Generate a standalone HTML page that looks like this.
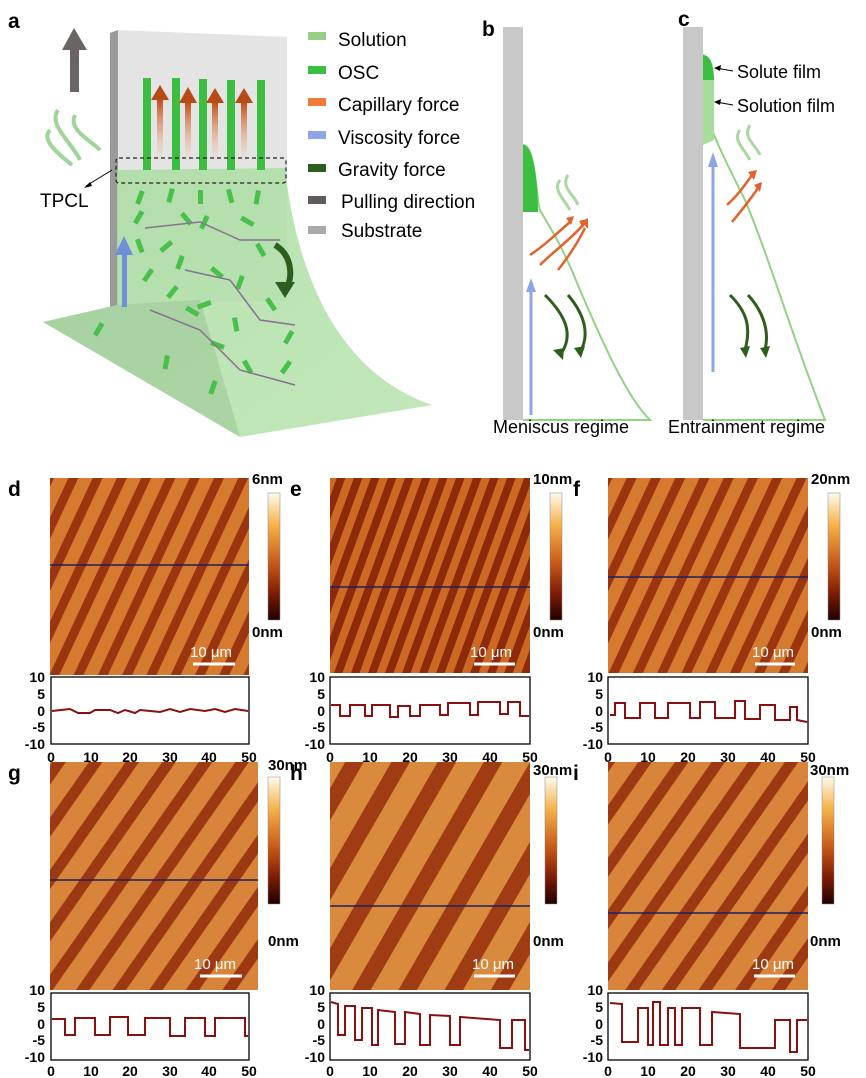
<!DOCTYPE html>
<html><head><meta charset="utf-8"><style>
html,body{margin:0;padding:0;background:#fff}
svg{display:block}
text{font-family:"Liberation Sans",Arial,sans-serif}
.L{font-weight:bold;font-size:21px}
.cb{font-weight:bold;font-size:15px}
.lg{font-size:19px}
</style></head><body>
<svg width="866" height="1078" viewBox="0 0 866 1078" xmlns="http://www.w3.org/2000/svg">
<defs>
<linearGradient id="cbar" x1="0" y1="0" x2="0" y2="1">
<stop offset="0" stop-color="#fffbee"/><stop offset="0.25" stop-color="#f5b24a"/><stop offset="0.55" stop-color="#c85a18"/><stop offset="0.8" stop-color="#7a1a05"/><stop offset="1" stop-color="#200000"/></linearGradient>
<pattern id="st1" width="22" height="22" patternUnits="userSpaceOnUse" patternTransform="rotate(25)">
<rect width="22" height="22" fill="#d67a30"/><rect width="9" height="22" fill="#9a3510"/></pattern>
<pattern id="st2" width="16" height="16" patternUnits="userSpaceOnUse" patternTransform="rotate(20)">
<rect width="16" height="16" fill="#cc6a25"/><rect width="8" height="16" fill="#8c2a0a"/></pattern>
<pattern id="st3" width="30" height="30" patternUnits="userSpaceOnUse" patternTransform="rotate(35)">
<rect width="30" height="30" fill="#d8843a"/><rect width="11" height="30" fill="#9c3812"/></pattern>
<pattern id="st4" width="40" height="40" patternUnits="userSpaceOnUse" patternTransform="rotate(30)">
<rect width="40" height="40" fill="#d98a3c"/><rect width="16" height="40" fill="#a03c14"/></pattern>
<linearGradient id="og" x1="0" y1="0" x2="0" y2="1"><stop offset="0" stop-color="#c2501a"/><stop offset="1" stop-color="#f6c8a8" stop-opacity="0"/></linearGradient>
<linearGradient id="mg" x1="0" y1="0" x2="1" y2="1"><stop offset="0" stop-color="#a9dca0"/><stop offset="1" stop-color="#b7e3ae"/></linearGradient>
</defs>

<!-- Panel a -->
<text x="8" y="28" class="L">a</text>
<polygon points="118,30 287,37 287,300 118,305" fill="#e4e4e4"/>
<polygon points="110,33 118,30 118,305 110,308" fill="#9a9a9a"/>
<rect x="70" y="50" width="9" height="42" fill="#6a6464"/>
<polygon points="62,50 74,28 87,50" fill="#6a6464"/>
<path d="M58,110 C48,125 70,140 80,160 M75,115 C68,130 90,140 100,150 M50,130 C40,140 60,155 72,165" stroke="#9fd59a" stroke-width="4" fill="none"/>
<path d="M43,322 L117,305 L117,170 L285,168 C295,260 330,370 432,405 L240,437 Z" fill="url(#mg)" opacity="0.85"/>
<path d="M43,322 L117,305 L200,300 L240,437 Z" fill="#9cc896" opacity="0.6"/>
<g fill="#3cbf40">
<rect x="143" y="78" width="8" height="92"/><rect x="172" y="78" width="8" height="92"/><rect x="199" y="79" width="8" height="91"/><rect x="227" y="80" width="8" height="90"/><rect x="257" y="80" width="8" height="90"/>
</g>
<g>
<rect x="157" y="100" width="6" height="65" fill="url(#og)"/><polygon points="151,100 160,85 169,100" fill="#b84a18"/>
<rect x="185" y="103" width="6" height="62" fill="url(#og)"/><polygon points="179,103 188,87 197,103" fill="#b84a18"/>
<rect x="212" y="103" width="6" height="62" fill="url(#og)"/><polygon points="206,103 215,88 224,103" fill="#b84a18"/>
<rect x="241" y="103" width="6" height="62" fill="url(#og)"/><polygon points="235,103 244,88 253,103" fill="#b84a18"/>
</g>
<rect x="116" y="158" width="170" height="25" rx="3" fill="none" stroke="#222" stroke-dasharray="4,3" stroke-width="1.2"/>
<line x1="112" y1="170" x2="86" y2="186" stroke="#000"/><polygon points="84,188 90,182 92,186" fill="#000"/>
<text x="40" y="207" style="font-size:19px">TPCL</text>
<g fill="#49c04c">
<rect x="140" y="190" width="5" height="14" transform="rotate(20 140 190)"/><rect x="170" y="188" width="5" height="14" transform="rotate(15 170 188)"/>
<rect x="198" y="190" width="5" height="14"/><rect x="226" y="190" width="5" height="14" transform="rotate(-15 226 190)"/>
<rect x="256" y="190" width="5" height="14" transform="rotate(10 256 190)"/>
<rect x="140" y="210" width="5" height="14" transform="rotate(30 140 210)"/><rect x="180" y="215" width="5" height="14" transform="rotate(-40 180 215)"/>
<rect x="205" y="215" width="5" height="14" transform="rotate(25 205 215)"/><rect x="240" y="220" width="5" height="14" transform="rotate(-60 240 220)"/>
<rect x="135" y="240" width="5" height="14" transform="rotate(-20 135 240)"/><rect x="170" y="240" width="5" height="14" transform="rotate(50 170 240)"/>
<rect x="255" y="245" width="5" height="14" transform="rotate(-30 255 245)"/><rect x="150" y="268" width="5" height="14" transform="rotate(35 150 268)"/>
<rect x="180" y="255" width="5" height="14" transform="rotate(20 180 255)"/><rect x="210" y="270" width="5" height="14" transform="rotate(-50 210 270)"/>
<rect x="240" y="275" width="5" height="14" transform="rotate(20 240 275)"/><rect x="175" y="285" width="5" height="14" transform="rotate(40 175 285)"/>
<rect x="210" y="300" width="5" height="14" transform="rotate(70 210 300)"/><rect x="265" y="300" width="5" height="14" transform="rotate(-35 265 300)"/>
<rect x="100" y="322" width="5" height="14" transform="rotate(30 100 322)"/><rect x="185" y="310" width="5" height="14" transform="rotate(-60 185 310)"/>
<rect x="232" y="318" width="5" height="14" transform="rotate(-10 232 318)"/><rect x="290" y="330" width="5" height="14" transform="rotate(30 290 330)"/>
<rect x="165" y="355" width="5" height="14" transform="rotate(10 165 355)"/><rect x="210" y="345" width="5" height="14" transform="rotate(-70 210 345)"/>
<rect x="242" y="362" width="5" height="14" transform="rotate(-30 242 362)"/><rect x="288" y="360" width="5" height="14" transform="rotate(35 288 360)"/>
<rect x="213" y="380" width="5" height="14" transform="rotate(20 213 380)"/>
</g>
<path d="M145,228 L200,222 L240,240 L280,240 M185,270 L230,280 L260,320 L295,325 M150,310 L200,330 L240,370 L295,385" stroke="#8a7090" stroke-width="1.5" fill="none"/>
<rect x="122" y="252" width="5" height="55" fill="#6f8fd8"/><polygon points="115,255 124,236 133,255" fill="#6f8fd8"/>
<path d="M275,245 C292,255 292,275 288,285" stroke="#2d5e1e" stroke-width="6" fill="none"/><polygon points="275,282 295,282 285,298" fill="#2d5e1e"/>
<!-- legend -->
<rect x="308" y="32" width="18" height="8" fill="#97cf86"/><text x="338" y="46" class="lg">Solution</text>
<rect x="308" y="66" width="18" height="8" fill="#3cbf40"/><text x="338" y="79" class="lg">OSC</text>
<rect x="308" y="98" width="18" height="8" fill="#ee7a3c"/><text x="338" y="111" class="lg">Capillary force</text>
<rect x="308" y="131" width="18" height="8" fill="#8fa6e6"/><text x="338" y="144" class="lg">Viscosity force</text>
<rect x="308" y="164" width="18" height="8" fill="#2d5e1e"/><text x="338" y="176" class="lg">Gravity force</text>
<rect x="308" y="196" width="18" height="8" fill="#5f5b5b"/><text x="341" y="208" class="lg">Pulling direction</text>
<rect x="308" y="226" width="18" height="8" fill="#aaaaaa"/><text x="341" y="237" class="lg">Substrate</text>

<!-- Panel b -->
<text x="482" y="36" class="L">b</text>
<rect x="503" y="27" width="20" height="393" fill="#c8c8c8"/>
<path d="M523,145 C536,145 536,200 540,210 C548,225 560,240 580,290 C610,360 630,400 650,420 L523,420" stroke="#8fd480" stroke-width="2" fill="none"/>
<path d="M523,145 C535,145 538,190 538,212 L523,212 Z" fill="#3cbf40"/>
<path d="M560,180 C552,190 565,200 570,210 M568,175 C560,188 575,195 578,205" stroke="#a8d8a0" stroke-width="3" fill="none"/>
<line x1="531" y1="415" x2="531" y2="290" stroke="#8fa6e6" stroke-width="3"/><polygon points="526,292 531,278 536,292" fill="#8fa6e6"/>
<path d="M530,255 C545,245 555,235 570,222 M540,265 C555,250 570,240 583,225 M558,270 C570,255 578,242 585,228" stroke="#e2622a" stroke-width="2.5" fill="none"/>
<g fill="#e2622a"><polygon points="566,218 574,216 571,225"/><polygon points="579,221 587,219 583,228"/><polygon points="582,222 588,218 588,229"/></g>
<path d="M545,295 C565,315 575,335 560,355 M568,295 C585,315 590,335 580,352" stroke="#2d5e1e" stroke-width="3" fill="none"/>
<polygon points="553,350 563,360 564,348" fill="#2d5e1e"/><polygon points="574,348 581,358 585,346" fill="#2d5e1e"/>
<text x="493" y="433" style="font-size:18px">Meniscus regime</text>

<!-- Panel c -->
<text x="678" y="26" class="L">c</text>
<rect x="683" y="27" width="20" height="393" fill="#c8c8c8"/>
<path d="M703,55 C712,60 712,100 712,130 C720,150 730,170 745,200 C770,260 790,330 825,420 L703,420" stroke="#8fd480" stroke-width="2" fill="none"/>
<path d="M703,55 C712,55 714,70 714,80 L703,80 Z" fill="#3cbf40"/>
<path d="M703,80 L714,80 L714,140 L703,145 Z" fill="#a8dc9a"/>
<path d="M740,130 C732,140 745,150 750,160 M750,125 C742,138 756,145 760,155" stroke="#a8d8a0" stroke-width="3" fill="none"/>
<line x1="713" y1="372" x2="713" y2="165" stroke="#8fa6e6" stroke-width="3"/><polygon points="708,167 713,152 718,167" fill="#8fa6e6"/>
<path d="M727,205 C738,195 745,185 752,175 M732,222 C742,210 750,200 758,188" stroke="#e2622a" stroke-width="2.5" fill="none"/>
<polygon points="748,172 757,170 754,180" fill="#e2622a"/><polygon points="754,185 762,182 760,192" fill="#e2622a"/>
<path d="M730,295 C745,310 752,325 745,350 M748,295 C762,310 770,330 765,350" stroke="#2d5e1e" stroke-width="3" fill="none"/>
<polygon points="740,348 746,358 750,346" fill="#2d5e1e"/><polygon points="760,348 766,358 770,346" fill="#2d5e1e"/>
<line x1="733" y1="71" x2="716" y2="68" stroke="#000"/><polygon points="714,68 721,65 720,71" fill="#000"/>
<line x1="733" y1="105" x2="716" y2="102" stroke="#000"/><polygon points="714,102 721,99 720,105" fill="#000"/>
<text x="737" y="78" style="font-size:18px">Solute film</text>
<text x="737" y="112" style="font-size:18px">Solution film</text>
<text x="668" y="433" style="font-size:18px">Entrainment regime</text>

<!-- Row d-f -->
<text x="8" y="496" class="L">d</text>
<rect x="50" y="478" width="199" height="197" fill="url(#st1)"/>
<line x1="50" y1="565" x2="249" y2="565" stroke="#1a2060" stroke-width="1.5"/>
<line x1="193" y1="664" x2="235" y2="664" stroke="#fff" stroke-width="3"/><text x="190" y="657" fill="#fff" style="font-size:15px">10 μm</text>
<rect x="268" y="493" width="12" height="127" fill="url(#cbar)" stroke="#888" stroke-width="0.5"/>
<text x="252" y="484" class="cb">6nm</text><text x="252" y="637" class="cb">0nm</text>

<text x="290" y="496" class="L">e</text>
<rect x="330" y="478" width="200" height="195" fill="url(#st2)"/>
<line x1="330" y1="587" x2="530" y2="587" stroke="#1a2060" stroke-width="1.5"/>
<line x1="474" y1="664" x2="515" y2="664" stroke="#fff" stroke-width="3"/><text x="470" y="657" fill="#fff" style="font-size:15px">10 μm</text>
<rect x="550" y="493" width="12" height="127" fill="url(#cbar)" stroke="#888" stroke-width="0.5"/>
<text x="533" y="484" class="cb">10nm</text><text x="533" y="637" class="cb">0nm</text>

<text x="573" y="496" class="L">f</text>
<rect x="608" y="478" width="200" height="195" fill="url(#st1)" />
<line x1="608" y1="577" x2="808" y2="577" stroke="#1a2060" stroke-width="1.5"/>
<line x1="755" y1="664" x2="795" y2="664" stroke="#fff" stroke-width="3"/><text x="752" y="657" fill="#fff" style="font-size:15px">10 μm</text>
<rect x="828" y="493" width="12" height="127" fill="url(#cbar)" stroke="#888" stroke-width="0.5"/>
<text x="811" y="484" class="cb">20nm</text><text x="811" y="637" class="cb">0nm</text>

<g text-anchor="end" font-weight="bold" font-size="14">
<text x="45" y="682">10</text><text x="45" y="699">5</text><text x="45" y="716">0</text><text x="45" y="732">-5</text><text x="45" y="749">-10</text>
<text x="325" y="682">10</text><text x="325" y="699">5</text><text x="325" y="716">0</text><text x="325" y="732">-5</text><text x="325" y="749">-10</text>
<text x="603" y="682">10</text><text x="603" y="699">5</text><text x="603" y="716">0</text><text x="603" y="732">-5</text><text x="603" y="749">-10</text>
</g>
<rect x="51" y="677" width="198" height="67" fill="none" stroke="#000" stroke-width="1.3"/>
<rect x="330" y="677" width="200" height="67" fill="none" stroke="#000" stroke-width="1.3"/>
<rect x="608" y="677" width="200" height="67" fill="none" stroke="#000" stroke-width="1.3"/>
<g font-weight="bold" font-size="14" text-anchor="middle">
<text x="51" y="762">0</text><text x="91" y="762">10</text><text x="130" y="762">20</text><text x="170" y="762">30</text><text x="209" y="762">40</text><text x="249" y="762">50</text>
<text x="330" y="762">0</text><text x="370" y="762">10</text><text x="410" y="762">20</text><text x="450" y="762">30</text><text x="490" y="762">40</text><text x="530" y="762">50</text>
<text x="608" y="762">0</text><text x="648" y="762">10</text><text x="688" y="762">20</text><text x="728" y="762">30</text><text x="768" y="762">40</text><text x="808" y="762">50</text>
</g>
<polyline fill="none" stroke="#8b0f0f" stroke-width="2" points="52,711 70,709 78,713 90,713 95,710 110,710 118,713 125,710 135,713 140,710 160,712 170,709 180,712 190,709 205,711 215,709 225,712 235,709 248,711"/>
<polyline fill="none" stroke="#8b0f0f" stroke-width="2" points="331,705 340,705 340,716 350,716 350,705 365,705 365,716 372,716 372,705 390,705 390,717 398,717 398,706 410,706 410,716 420,716 420,705 440,705 440,715 448,715 448,703 470,703 470,715 478,715 478,702 500,702 500,714 508,714 508,702 520,702 520,716 529,716"/>
<polyline fill="none" stroke="#8b0f0f" stroke-width="2" points="610,715 615,715 615,703 625,703 625,718 640,718 640,703 655,703 655,718 668,718 668,703 690,703 690,718 700,718 700,702 715,702 715,718 735,718 735,701 745,701 745,719 760,719 760,705 775,705 775,720 790,720 790,707 797,707 797,720 807,722"/>

<!-- Row g-i -->
<text x="8" y="780" class="L">g</text>
<rect x="50" y="762" width="208" height="228" fill="url(#st3)"/>
<line x1="50" y1="880" x2="258" y2="880" stroke="#1a2060" stroke-width="1.5"/>
<line x1="200" y1="976" x2="242" y2="976" stroke="#fff" stroke-width="3"/><text x="194" y="969" fill="#fff" style="font-size:15px">10 μm</text>
<rect x="268" y="777" width="12" height="127" fill="url(#cbar)" stroke="#888" stroke-width="0.5"/>
<text x="268" y="770" class="cb">30nm</text><text x="268" y="946" class="cb">0nm</text>

<text x="290" y="780" class="L">h</text>
<rect x="330" y="762" width="200" height="228" fill="url(#st4)"/>
<line x1="330" y1="906" x2="530" y2="906" stroke="#1a2060" stroke-width="1.5"/>
<line x1="474" y1="976" x2="515" y2="976" stroke="#fff" stroke-width="3"/><text x="472" y="969" fill="#fff" style="font-size:15px">10 μm</text>
<rect x="545" y="777" width="12" height="127" fill="url(#cbar)" stroke="#888" stroke-width="0.5"/>
<text x="533" y="775" class="cb">30nm</text><text x="533" y="946" class="cb">0nm</text>

<text x="573" y="780" class="L">i</text>
<rect x="608" y="762" width="200" height="228" fill="url(#st3)"/>
<line x1="608" y1="913" x2="808" y2="913" stroke="#1a2060" stroke-width="1.5"/>
<line x1="754" y1="976" x2="795" y2="976" stroke="#fff" stroke-width="3"/><text x="752" y="969" fill="#fff" style="font-size:15px">10 μm</text>
<rect x="822" y="777" width="12" height="127" fill="url(#cbar)" stroke="#888" stroke-width="0.5"/>
<text x="810" y="775" class="cb">30nm</text><text x="810" y="946" class="cb">0nm</text>

<g font-weight="bold" font-size="14" text-anchor="end">
<text x="45" y="995">10</text><text x="45" y="1012">5</text><text x="45" y="1029">0</text><text x="45" y="1045">-5</text><text x="45" y="1062">-10</text>
<text x="325" y="995">10</text><text x="325" y="1012">5</text><text x="325" y="1029">0</text><text x="325" y="1045">-5</text><text x="325" y="1062">-10</text>
<text x="603" y="995">10</text><text x="603" y="1012">5</text><text x="603" y="1029">0</text><text x="603" y="1045">-5</text><text x="603" y="1062">-10</text>
</g>
<rect x="51" y="993" width="198" height="67" fill="none" stroke="#000" stroke-width="1.3"/>
<rect x="330" y="993" width="200" height="67" fill="none" stroke="#000" stroke-width="1.3"/>
<rect x="608" y="993" width="200" height="67" fill="none" stroke="#000" stroke-width="1.3"/>
<g font-weight="bold" font-size="14" text-anchor="middle">
<text x="51" y="1076">0</text><text x="91" y="1076">10</text><text x="130" y="1076">20</text><text x="170" y="1076">30</text><text x="209" y="1076">40</text><text x="249" y="1076">50</text>
<text x="330" y="1076">0</text><text x="370" y="1076">10</text><text x="410" y="1076">20</text><text x="450" y="1076">30</text><text x="490" y="1076">40</text><text x="530" y="1076">50</text>
<text x="608" y="1076">0</text><text x="648" y="1076">10</text><text x="688" y="1076">20</text><text x="728" y="1076">30</text><text x="768" y="1076">40</text><text x="808" y="1076">50</text>
</g>
<polyline fill="none" stroke="#8b0f0f" stroke-width="2" points="52,1019 65,1019 65,1035 75,1035 75,1018 95,1018 95,1035 110,1035 110,1017 128,1017 128,1035 145,1035 145,1018 170,1018 170,1036 185,1036 185,1018 205,1018 205,1036 215,1036 215,1018 245,1018 245,1036 248,1036"/>
<polyline fill="none" stroke="#8b0f0f" stroke-width="2" points="331,1002 338,1004 338,1035 345,1035 345,1006 355,1006 355,1040 362,1040 362,1008 372,1008 372,1045 378,1045 378,1010 395,1012 395,1044 405,1044 405,1012 420,1014 420,1045 430,1045 430,1015 450,1016 450,1045 460,1045 460,1017 500,1020 500,1048 512,1048 512,1020 525,1020 525,1050 529,1050"/>
<polyline fill="none" stroke="#8b0f0f" stroke-width="2" points="610,1003 622,1004 622,1042 638,1042 638,1008 648,1008 648,1045 653,1045 653,1002 660,1002 660,1045 668,1045 668,1008 675,1008 675,1045 682,1045 682,1008 700,1008 700,1045 712,1045 712,1012 740,1014 740,1048 775,1048 775,1020 790,1020 790,1052 797,1052 797,1020 807,1020"/>
</svg>
</body></html>
